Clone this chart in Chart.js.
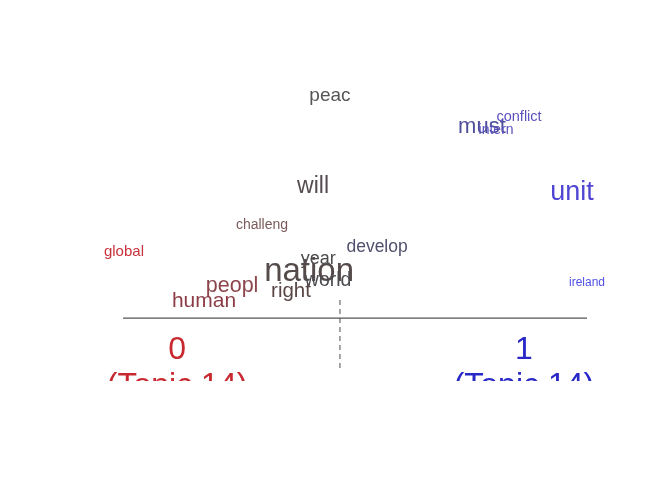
<!DOCTYPE html>
<html>
<head>
<meta charset="utf-8">
<script src="https://cdn.jsdelivr.net/npm/chart.js@4"></script>
<style>
html,body{margin:0;padding:0;background:#fff;}
#wrap{width:672px;height:480px;position:relative;}
</style>
</head>
<body>
<div id="wrap"><canvas id="c" width="672" height="480"></canvas></div>
<script>
// Words and their positions (x: topic contrast, y: vertical placement)
const words  = ["peac","must","conflict","intern","will","unit","challeng","global","develop","year","nation","world","ireland","peopl","right","human"];
const wordX  = [-0.108, 0.547, 0.707, 0.608, -0.181, 0.935, -0.401, -0.996, 0.095, -0.159, -0.198, -0.116, 1.000, -0.530, -0.276, -0.651];
const wordY  = [0.865, 0.745, 0.784, 0.734, 0.514, 0.494, 0.367, 0.263, 0.282, 0.236, 0.185, 0.154, 0.143, 0.131, 0.112, 0.073];
const wordSize = [19, 22, 14.5, 14, 23, 27, 14, 15, 17.5, 18, 33, 19.5, 12, 21.5, 20.5, 21];
const wordColor = ["#555558","#50509a","#5a50be","#5a50be","#554b50","#5046d2","#7a5a5a","#c8323c","#50506e","#4b4b4b","#554b4b","#4b4b50","#5050e6","#8c464b","#5a4646","#8c3c46"];

// Axis labels for the two ends
const endLabels = ["0\n(Topic 14)", "1\n(Topic 14)"];
const endX = [-0.767, 0.728];
const endY = [-0.116, -0.116];
const endColor = ["#c8282f","#2828c8"];

// Reference lines
const baseLineX = [-1, 1];
const baseLineY = [0, 0];
const midLineX = [-0.065, -0.065];
const midLineY = [0.07, -0.2];

const wordPlugin = {
  id: 'wordPlugin',
  afterDatasetsDraw(chart) {
    const ctx = chart.ctx, xs = chart.scales.x, ys = chart.scales.y, a = chart.chartArea;
    const vAdj = 2; // vertical centring adjustment of glyphs
    ctx.save();
    ctx.beginPath();
    ctx.rect(a.left, a.top, a.right - a.left, a.bottom - a.top);
    ctx.clip();
    ctx.textAlign = 'center';
    ctx.textBaseline = 'middle';
    words.forEach((w, i) => {
      ctx.font = wordSize[i] + 'px "Liberation Sans", Arial, sans-serif';
      ctx.fillStyle = wordColor[i];
      ctx.fillText(w, xs.getPixelForValue(wordX[i]), ys.getPixelForValue(wordY[i]) + vAdj);
    });
    endLabels.forEach((t, i) => {
      ctx.font = '32px "Liberation Sans", Arial, sans-serif';
      ctx.fillStyle = endColor[i];
      const lines = t.split('\n');
      const px = xs.getPixelForValue(endX[i]);
      const py = ys.getPixelForValue(endY[i]) + vAdj;
      lines.forEach((ln, k) => ctx.fillText(ln, px, py + k * 36));
    });
    ctx.restore();
  }
};

new Chart(document.getElementById('c'), {
  type: 'scatter',
  data: {
    datasets: [
      {
        data: baseLineX.map((x, i) => ({x, y: baseLineY[i]})),
        showLine: true, borderColor: '#555555', borderWidth: 1.3, pointRadius: 0
      },
      {
        data: midLineX.map((x, i) => ({x, y: midLineY[i]})),
        showLine: true, borderColor: '#777777', borderWidth: 1.3, borderDash: [5, 4], pointRadius: 0
      }
    ]
  },
  options: {
    responsive: false,
    animation: false,
    layout: { padding: { left: 59, right: 30, top: 59, bottom: 99 } },
    plugins: { legend: { display: false }, tooltip: { enabled: false } },
    scales: {
      x: { type: 'linear', min: -1.276, max: 1.237, display: false },
      y: { type: 'linear', min: -0.243, max: 1.0, display: false }
    }
  },
  plugins: [wordPlugin]
});
</script>
</body>
</html>
